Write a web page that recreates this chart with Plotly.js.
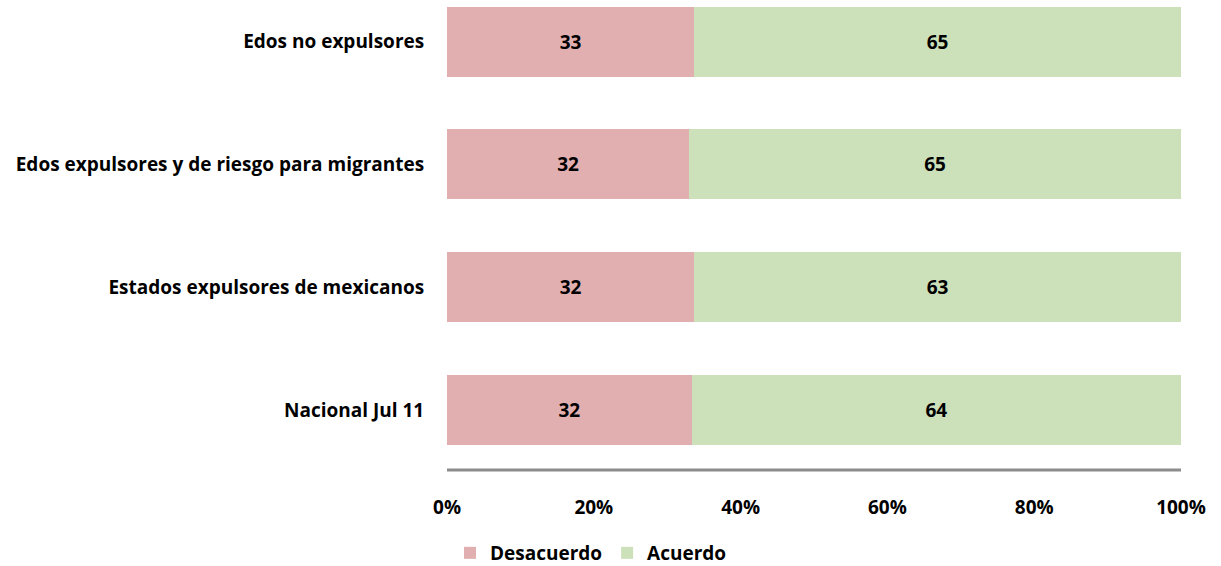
<!DOCTYPE html>
<html>
<head>
<meta charset="utf-8">
<script src="https://cdn.plot.ly/plotly-3.0.1.min.js"></script>
<style>html,body{margin:0;padding:0;background:#fff;}#chart{width:1221px;height:566px;}</style>
</head>
<body>
<div id="chart"></div>
<script>
const categories = ["Nacional Jul 11", "Estados expulsores de mexicanos", "Edos expulsores y de riesgo para migrantes", "Edos no expulsores"];
const desacuerdo = [32, 32, 32, 33];
const acuerdo = [64, 63, 65, 65];
const xTickVals = [0, 20, 40, 60, 80, 100];
const xTickText = ["0%", "20%", "40%", "60%", "80%", "100%"];

const FONT = "'Open Sans', sans-serif";
const SIZE = 19;
const data = [
  {type: 'bar', orientation: 'h', name: '<b>Desacuerdo</b>', y: categories, x: desacuerdo,
   text: desacuerdo, texttemplate: '<b>%{text}</b>', textposition: 'inside', insidetextanchor: 'middle',
   textfont: {family: FONT, size: SIZE, color: '#000'},
   marker: {color: '#E2AFB0'}, hoverinfo: 'none'},
  {type: 'bar', orientation: 'h', name: '<b>Acuerdo</b>', y: categories, x: acuerdo,
   text: acuerdo, texttemplate: '<b>%{text}</b>', textposition: 'inside', insidetextanchor: 'middle',
   textfont: {family: FONT, size: SIZE, color: '#000'},
   marker: {color: '#CCE0B9'}, hoverinfo: 'none'}
];
const layout = {
  width: 1221, height: 566,
  margin: {l: 447, r: 40, t: 0, b: 96},
  barmode: 'stack', barnorm: 'percent', bargap: 0.43,
  paper_bgcolor: '#fff', plot_bgcolor: '#fff',
  font: {family: FONT, size: SIZE, color: '#000'},
  xaxis: {range: [0, 100], tickvals: xTickVals, ticktext: xTickText.map(t => '<b>' + t + '</b>'),
          showgrid: false, zeroline: false, showline: false, automargin: false,
          ticks: 'outside', ticklen: 20, tickcolor: 'rgba(0,0,0,0)', fixedrange: true},
  yaxis: {type: 'category', range: [-0.49, 3.34], showgrid: false, zeroline: false, automargin: false,
          tickvals: categories, ticktext: categories.map(t => '<b>' + t + '</b>'),
          ticks: 'outside', ticklen: 18, tickcolor: 'rgba(0,0,0,0)', showline: false},
  shapes: [{type: 'line', xref: 'x', yref: 'paper', x0: 0, x1: 100, y0: 0, y1: 0,
            line: {color: '#8C8C8C', width: 3}}],
  showlegend: true,
  legend: {orientation: 'h', xref: 'container', x: 450 / 1221, xanchor: 'left',
           yref: 'container', y: 13 / 566, yanchor: 'middle',
           font: {family: FONT, size: SIZE, color: '#000'}, itemwidth: 30, traceorder: 'normal'}
};
Plotly.newPlot('chart', data, layout, {displayModeBar: false, staticPlot: true});
</script>
</body>
</html>
